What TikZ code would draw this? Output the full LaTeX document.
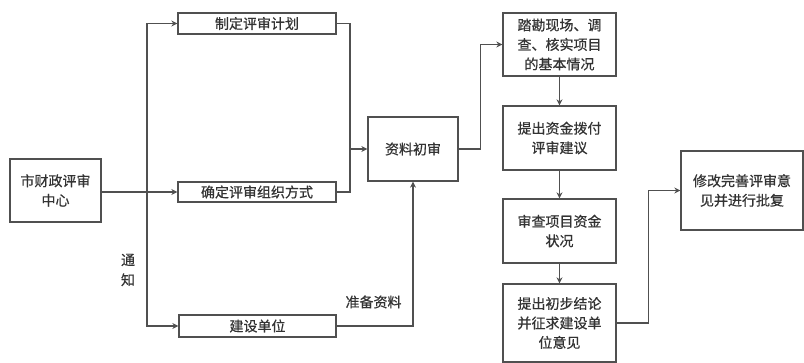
\documentclass[tikz,border=0pt]{standalone}
\usepackage{fontspec}
\setmainfont{Noto Sans CJK SC}[FakeBold=0.6,AutoFakeBold=0.6]
\usetikzlibrary{arrows.meta}
\definecolor{ln}{HTML}{505050}
\definecolor{tx}{HTML}{333333}
\begin{document}
\begin{tikzpicture}[x=1pt,y=-1pt,
  box/.style={draw=ln,line width=1.3pt,rectangle,inner sep=0pt,align=center,
    font=\fontsize{14}{19.5}\selectfont\bfseries,text=tx},
  conn/.style={draw=ln,line width=1.3pt},
  arr/.style={conn,-{Stealth[length=6pt,width=6pt]}},
  lbl/.style={font=\fontsize{14}{20}\selectfont\bfseries,text=tx,inner sep=0pt,align=center}]
\useasboundingbox (0,0) rectangle (804,362);
\node[box,minimum width=91pt,minimum height=63pt] (zx) at (55.5,190.5) {市财政评审\\中心};
\node[box,minimum width=158pt,minimum height=21pt] (zd) at (257,23.5) {制定评审计划};
\node[box,minimum width=158pt,minimum height=20pt] (qd) at (257,192) {确定评审组织方式};
\node[box,minimum width=157pt,minimum height=22pt] (js) at (257.5,326) {建设单位};
\node[box,minimum width=90pt,minimum height=64pt] (cs) at (413,149) {资料初审};
\node[box,minimum width=113pt,minimum height=63pt] (kc) at (559.5,44.5) {踏勘现场、调\\查、核实项目\\的基本情况};
\node[box,minimum width=113pt,minimum height=64pt] (tc) at (559.5,138) {提出资金拨付\\评审建议};
\node[box,minimum width=113pt,minimum height=64pt] (sc) at (559.5,231) {审查项目资金\\状况};
\node[box,minimum width=113pt,minimum height=78pt] (jl) at (559.5,323) {提出初步结论\\并征求建设单\\位意见};
\node[box,minimum width=122pt,minimum height=79pt] (xg) at (742,190.5) {修改完善评审意\\见并进行批复};
\coordinate (s) at (147,192);
\coordinate (j) at (350,149);
\node[lbl] (tz) at (128,270) {通\\知};
\node[lbl] (zb) at (373.5,302) {准备资料};
\draw[arr] (zx.east |- s) -- (qd.west);
\draw[arr] (s) |- (zd.west);
\draw[arr] (s) |- (js.west);
\draw[conn] (zd.east) -| (j);
\draw[conn] (qd.east) -| (j);
\draw[arr] (j) -- (cs.west);
\draw[arr] (js.east) -| (cs.south);
\draw[arr] (cs.east) -- ++(22,0) |- (kc.west);
\draw[arr] (kc.south) -- (tc.north);
\draw[arr] (tc.south) -- (sc.north);
\draw[arr] (sc.south) -- (jl.north);
\draw[arr] (jl.east) -- ++(32,0) |- (xg.west);
\end{tikzpicture}
\end{document}
